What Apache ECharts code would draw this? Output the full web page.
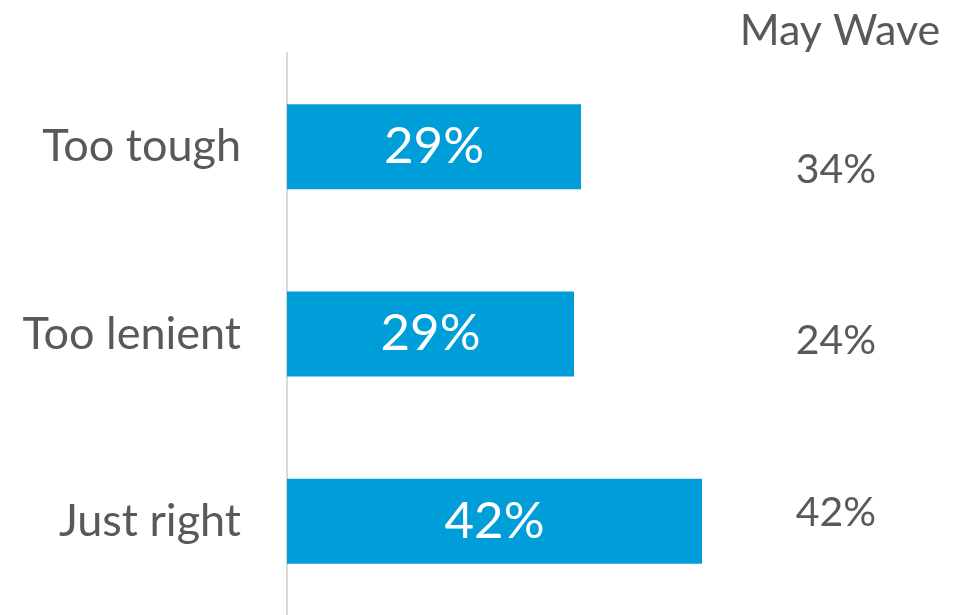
<!DOCTYPE html>
<html lang="en">
  <head>
    <meta charset="utf-8" />
    <script src="https://cdn.jsdelivr.net/npm/echarts@6/dist/echarts.min.js"></script>
    <title>Too tough / Too lenient / Just right</title>
    <style>
      html, body { margin: 0; padding: 0; background: #fff; }
      #chart { width: 966px; height: 615px; }
    </style>
  </head>
  <body>
    <div id="chart"></div>
    <script>
      var categories = ['Too tough', 'Too lenient', 'Just right']
      var currentWave = [29.4, 28.7, 41.5]
      var mayWaveTitle = 'May Wave'
      var mayWave = ['34%', '24%', '42%']

      var grey = '#595959'
      var font = 'Lato, "Open Sans", sans-serif'

      var chart = echarts.init(document.getElementById('chart'))
      chart.setOption({
        animation: false,
        title: {
          text: mayWaveTitle,
          left: 835,
          textAlign: 'center',
          top: 5,
          textStyle: { color: grey, fontSize: 43, fontWeight: 'normal', fontFamily: font }
        },
        grid: [
          { left: 287, top: 53, width: 600, bottom: 0 },
          // right hand column, rows sit a bit off the bars
          { left: 836, top: 84, width: 1, bottom: 17 }
        ],
        xAxis: [
          { type: 'value', min: 0, max: 60, show: false, gridIndex: 0 },
          { type: 'value', min: 0, max: 1, show: false, gridIndex: 1 }
        ],
        yAxis: [
          {
            type: 'category',
            data: categories,
            inverse: true,
            gridIndex: 0,
            axisLine: { show: true, lineStyle: { color: '#D9D9D9', width: 2 } },
            axisTick: { show: false },
            axisLabel: { color: grey, fontSize: 45, fontFamily: font, margin: 46 }
          },
          {
            type: 'category',
            data: mayWave,
            inverse: true,
            gridIndex: 1,
            axisLine: { show: false },
            axisTick: { show: false },
            axisLabel: { color: grey, fontSize: 41, fontFamily: font, margin: 0, align: 'center' }
          }
        ],
        series: [
          {
            type: 'bar',
            data: currentWave,
            xAxisIndex: 0,
            yAxisIndex: 0,
            barWidth: 85,
            itemStyle: { color: '#009ED8' },
            label: {
              show: true,
              position: 'inside',
              color: '#fff',
              fontSize: 51,
              fontFamily: font,
              formatter: function (p) { return Math.round(p.value) + '%' }
            }
          }
        ]
      })
    </script>
  </body>
</html>
